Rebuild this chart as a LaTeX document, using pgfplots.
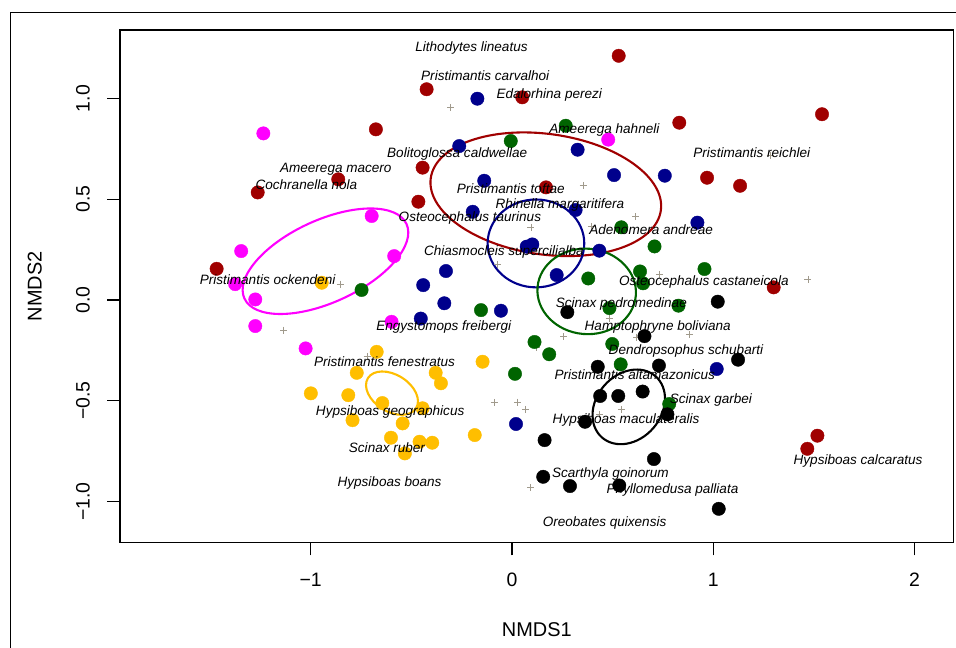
\documentclass[border=0pt]{standalone}
\usepackage{fontspec}
\setmainfont{Liberation Sans}
\usepackage{pgfplots}
\pgfplotsset{compat=1.18}
\definecolor{cred}{RGB}{160,0,0}
\definecolor{cblue}{RGB}{0,0,140}
\definecolor{cgreen}{RGB}{0,100,0}
\definecolor{cmag}{RGB}{255,0,255}
\definecolor{corange}{RGB}{255,190,0}
\definecolor{ccross}{RGB}{160,154,140}
\begin{document}
\begin{tikzpicture}
\begin{axis}[
  at={(0,0)}, anchor=south west,
  scale only axis, width=833.7bp, height=512.7bp,
  xmin=-1.947, xmax=2.194, ymin=-1.204, ymax=1.340,
  axis line style={line width=1.3bp},
  xtick={-1,0,1,2}, xticklabels={−1,0,1,2},
  ytick={-1,-0.5,0,0.5,1}, yticklabels={−1.0,−0.5,0.0,0.5,1.0},
  tick align=outside, major tick length=12.7bp,
  tick style={line width=1.2bp, black},
  xtick pos=bottom, ytick pos=left,
  ticklabel style={font=\fontsize{19.5}{19.5}\selectfont},
  xticklabel style={yshift=-14bp},
  yticklabel style={rotate=90, anchor=south, yshift=14bp},
  xlabel={NMDS1}, ylabel={NMDS2},
  label style={font=\fontsize{20}{20}\selectfont},
  xlabel style={at={(axis description cs:0.5,-0.169)}, anchor=center},
  ylabel style={at={(axis description cs:-0.1023,0.5)}, anchor=center},
  clip=false,
]
% grey crosses
\addplot[only marks, mark=+, mark size=3.5bp, ccross, mark options={line width=0.8bp}] coordinates {
(-0.305,0.956) (-0.262,0.779) (0.353,0.569) (1.282,0.718) (0.614,0.414)
(0.394,0.365) (0.094,0.361) (-0.071,0.177) (0.732,0.128) (1.470,0.103)
(0.483,-0.091) (-0.854,0.079) (-1.133,-0.149) (-0.719,-0.279) (0.256,-0.181)
(0.619,-0.184) (0.881,-0.170) (0.121,-0.233) (-0.088,-0.508) (0.028,-0.506)
(0.067,-0.542) (0.543,-0.542) (0.433,-0.567) (0.093,-0.930)
};
% dark red
\addplot[only marks, mark=*, mark size=6.7bp, cred, mark options={draw=none, fill=cred}] coordinates {
(0.530,1.212) (-0.424,1.046) (0.051,1.006) (-0.676,0.847) (1.540,0.922)
(0.831,0.880) (-0.444,0.657) (-0.863,0.599) (-1.263,0.534) (-0.465,0.488)
(0.969,0.607) (1.133,0.567) (0.169,0.559) (-1.467,0.155) (1.300,0.063)
(1.517,-0.673) (1.467,-0.738)
};
% magenta
\addplot[only marks, mark=*, mark size=6.7bp, cmag, mark options={draw=none, fill=cmag}] coordinates {
(-1.235,0.827) (0.478,0.796) (-0.697,0.417) (-1.345,0.243) (-0.585,0.218)
(-1.375,0.079) (-1.275,0.003) (-1.275,-0.129) (-1.025,-0.240) (-0.598,-0.108)
};
% blue
\addplot[only marks, mark=*, mark size=6.7bp, cblue, mark options={draw=none, fill=cblue}] coordinates {
(-0.172,0.999) (-0.262,0.764) (-0.195,0.438) (-0.138,0.592) (0.326,0.746)
(0.507,0.620) (0.759,0.617) (0.316,0.447) (0.921,0.384) (0.073,0.265)
(0.101,0.276) (0.434,0.245) (0.222,0.124) (-0.328,0.144) (-0.441,0.074)
(-0.336,-0.016) (-0.453,-0.092) (-0.055,-0.053) (1.017,-0.342) (0.020,-0.615)
};
% green
\addplot[only marks, mark=*, mark size=6.7bp, cgreen, mark options={draw=none, fill=cgreen}] coordinates {
(0.267,0.865) (-0.006,0.789) (0.543,0.361) (0.708,0.266) (0.379,0.107)
(0.636,0.142) (0.651,0.083) (0.956,0.154) (0.484,-0.040) (0.827,-0.028)
(-0.154,-0.050) (-0.747,0.050) (0.112,-0.208) (0.185,-0.269) (0.498,-0.218)
(0.540,-0.319) (0.015,-0.366) (0.781,-0.516)
};
% black
\addplot[only marks, mark=*, mark size=6.7bp, black, mark options={draw=none, fill=black}] coordinates {
(1.022,-0.008) (0.275,-0.060) (0.658,-0.179) (0.426,-0.331) (0.730,-0.325)
(1.123,-0.296) (0.438,-0.476) (0.528,-0.476) (0.649,-0.454) (0.772,-0.567)
(0.363,-0.604) (0.162,-0.695) (0.705,-0.789) (0.155,-0.877) (0.288,-0.923)
(0.533,-0.920) (1.027,-1.036)
};
% orange
\addplot[only marks, mark=*, mark size=6.7bp, corange, mark options={draw=none, fill=corange}] coordinates {
(-0.945,0.086) (-0.672,-0.257) (-0.146,-0.306) (-0.771,-0.361) (-0.379,-0.361)
(-0.353,-0.413) (-0.999,-0.463) (-0.813,-0.472) (-0.644,-0.511) (-0.444,-0.537)
(-0.792,-0.596) (-0.543,-0.612) (-0.601,-0.683) (-0.459,-0.703) (-0.396,-0.708)
(-0.532,-0.761) (-0.185,-0.670)
};
% ellipses
\draw[cred, line width=2.1bp, rotate around={-8:(axis cs:0.168,0.525)}] (axis cs:0.168,0.525) ellipse [x radius=0.577, y radius=0.299];
\draw[cblue, line width=2.1bp] (axis cs:0.119,0.281) ellipse [x radius=0.240, y radius=0.218];
\draw[cgreen, line width=2.1bp, rotate around={-5:(axis cs:0.371,0.043)}] (axis cs:0.371,0.043) ellipse [x radius=0.245, y radius=0.212];
\draw[black, line width=2.1bp, rotate around={48.8:(axis cs:0.580,-0.530)}] (axis cs:0.580,-0.530) ellipse [x radius=0.202, y radius=0.161];
\draw[cmag, line width=2.1bp, rotate around={24.7:(axis cs:-0.9265,0.1926)}] (axis cs:-0.9265,0.1926) ellipse [x radius=0.443, y radius=0.204];
\draw[corange, line width=2.1bp, rotate around={-32:(axis cs:-0.596,-0.462)}] (axis cs:-0.596,-0.462) ellipse [x radius=0.141, y radius=0.0914];
% species labels
\addplot[only marks, mark=none, point meta=explicit symbolic,
  nodes near coords={\pgfplotspointmeta}, nodes near coords align={center},
  every node near coord/.append style={anchor=center, inner sep=0pt, black, font=\itshape\fontsize{13.6}{14}\selectfont}]
coordinates {
(-0.201,1.252) [Lithodytes lineatus]
(-0.133,1.112) [Pristimantis carvalhoi]
(0.185,1.017) [Edalorhina perezi]
(0.459,0.844) [Ameerega hahneli]
(-0.272,0.723) [Bolitoglossa caldwellae]
(1.191,0.733) [Pristimantis reichlei]
(-0.875,0.649) [Ameerega macero]
(-1.021,0.571) [Cochranella nola]
(-0.006,0.551) [Pristimantis toftae]
(0.238,0.471) [Rhinella margaritifera]
(-0.209,0.408) [Osteocephalus taurinus]
(0.691,0.347) [Adenomera andreae]
(-0.040,0.238) [Chiasmocleis supercilialba]
(-1.214,0.099) [Pristimantis ockendeni]
(0.953,0.088) [Osteocephalus castaneicola]
(0.543,-0.021) [Scinax pedromedinae]
(-0.339,-0.135) [Engystomops freibergi]
(0.724,-0.133) [Hamptophryne boliviana]
(0.864,-0.252) [Dendropsophus schubarti]
(-0.633,-0.306) [Pristimantis fenestratus]
(0.610,-0.372) [Pristimantis altamazonicus]
(0.988,-0.496) [Scinax garbei]
(-0.605,-0.557) [Hypsiboas geographicus]
(0.567,-0.596) [Hypsiboas maculateralis]
(-0.621,-0.731) [Scinax ruber]
(1.719,-0.799) [Hypsiboas calcaratus]
(0.489,-0.864) [Scarthyla goinorum]
(-0.608,-0.907) [Hypsiboas boans]
(0.797,-0.943) [Phyllomedusa palliata]
(0.460,-1.105) [Oreobates quixensis]
};
\end{axis}
\draw[line width=0.8bp] (-110bp,-106bp) -- (-110bp,530bp) -- (837bp,530bp);
\pgfresetboundingbox
\path[use as bounding box] (-120bp,-105.3bp) rectangle (836bp,542.7bp);
\end{tikzpicture}
\end{document}
